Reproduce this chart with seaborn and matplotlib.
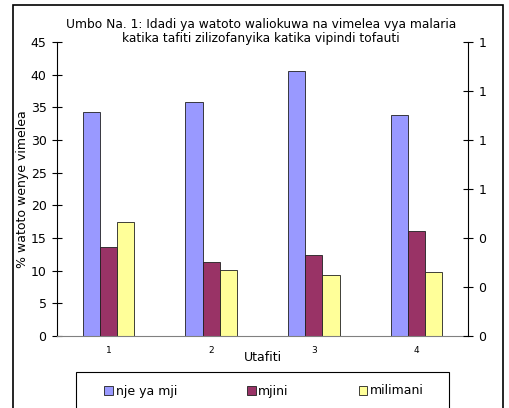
import matplotlib
matplotlib.use('Agg')
import matplotlib.pyplot as plt
import matplotlib.patches as mpatches
import seaborn as sns
import pandas as pd
import numpy as np

studies = ['1', '2', '3', '4']
series = ['nje ya mji', 'mjini', 'milimani']
nje_ya_mji = [34.3, 35.8, 40.6, 33.8]
mjini = [13.6, 11.3, 12.4, 16.1]
milimani = [17.4, 10.1, 9.3, 9.8]
colors = ['#9999FF', '#993366', '#FFFF99']

df = pd.DataFrame({
    'Utafiti': studies * 3,
    'series': [s for s in series for _ in studies],
    'value': nje_ya_mji + mjini + milimani,
})

sns.set_style('white')
plt.rcParams['font.family'] = ['DejaVu Sans']
plt.rcParams['text.color'] = 'black'
plt.rcParams['axes.labelcolor'] = 'black'
plt.rcParams['xtick.color'] = 'black'
plt.rcParams['ytick.color'] = 'black'

fig = plt.figure(figsize=(5.1, 4.08), dpi=100)
ax = fig.add_axes([0.1118, 0.1765, 0.8058, 0.7205])
sns.barplot(data=df, x='Utafiti', y='value', hue='series', order=studies,
            hue_order=series, palette=colors, saturation=1, width=0.5,
            edgecolor='#202020', linewidth=0.6, ax=ax, legend=False)

ax.set_xlim(-0.5, 3.5)
ax.set_ylim(0, 45)
ax.set_yticks(np.arange(0, 46, 5))
ax.tick_params(axis='y', direction='inout', length=7, width=0.8, labelsize=9, pad=4)
ax.tick_params(axis='x', length=0, labelsize=6.5, pad=7)
for s in ['top', 'right']:
    ax.spines[s].set_visible(False)
ax.spines['left'].set_linewidth(0.8)
ax.spines['left'].set_color('black')
ax.spines['bottom'].set_color('#808080')
ax.spines['bottom'].set_linewidth(0.8)
ax.set_xlabel('Utafiti', fontsize=9, labelpad=-3)
ax.set_ylabel('% watoto wenye vimelea', fontsize=9, labelpad=1)

ax2 = ax.twinx()
ax2.set_ylim(0, 1.2)
ax2.set_yticks(np.arange(0, 1.21, 0.2))
ax2.yaxis.set_major_formatter(matplotlib.ticker.FormatStrFormatter('%.0f'))
ax2.tick_params(axis='y', direction='inout', length=7, width=0.8, labelsize=9, pad=4)
for s in ['top', 'left', 'bottom']:
    ax2.spines[s].set_visible(False)
ax2.spines['right'].set_linewidth(0.8)
ax2.spines['right'].set_color('black')

fig.text(0.512, 0.923, 'Umbo Na. 1: Idadi ya watoto waliokuwa na vimelea vya malaria\n'
         'katika tafiti zilizofanyika katika vipindi tofauti',
         ha='center', va='center', fontsize=8.8, linespacing=1.15)

handles = [mpatches.Patch(facecolor=c, edgecolor='#202020', linewidth=0.6, label=s)
           for c, s in zip(colors, series)]
leg = fig.legend(handles=handles, ncol=3, loc='center',
                 bbox_to_anchor=(264 / 510, 1 - 391 / 408),
                 frameon=False, fontsize=9, handlelength=0.7, handleheight=0.7,
                 handletextpad=0.2, columnspacing=5.6, borderaxespad=0)

# legend box and outer chart border
fig.patches.append(mpatches.Rectangle((76 / 510, -0.02), (449 - 76) / 510, 0.02 + 36 / 408,
                                      transform=fig.transFigure, fill=False,
                                      edgecolor='black', linewidth=0.8))
fig.patches.append(mpatches.Rectangle((13 / 510, -0.05), 490 / 510, 1.05 - 5 / 408,
                                      transform=fig.transFigure, fill=False,
                                      edgecolor='black', linewidth=1.2))

fig.savefig('out.png', dpi=100)
